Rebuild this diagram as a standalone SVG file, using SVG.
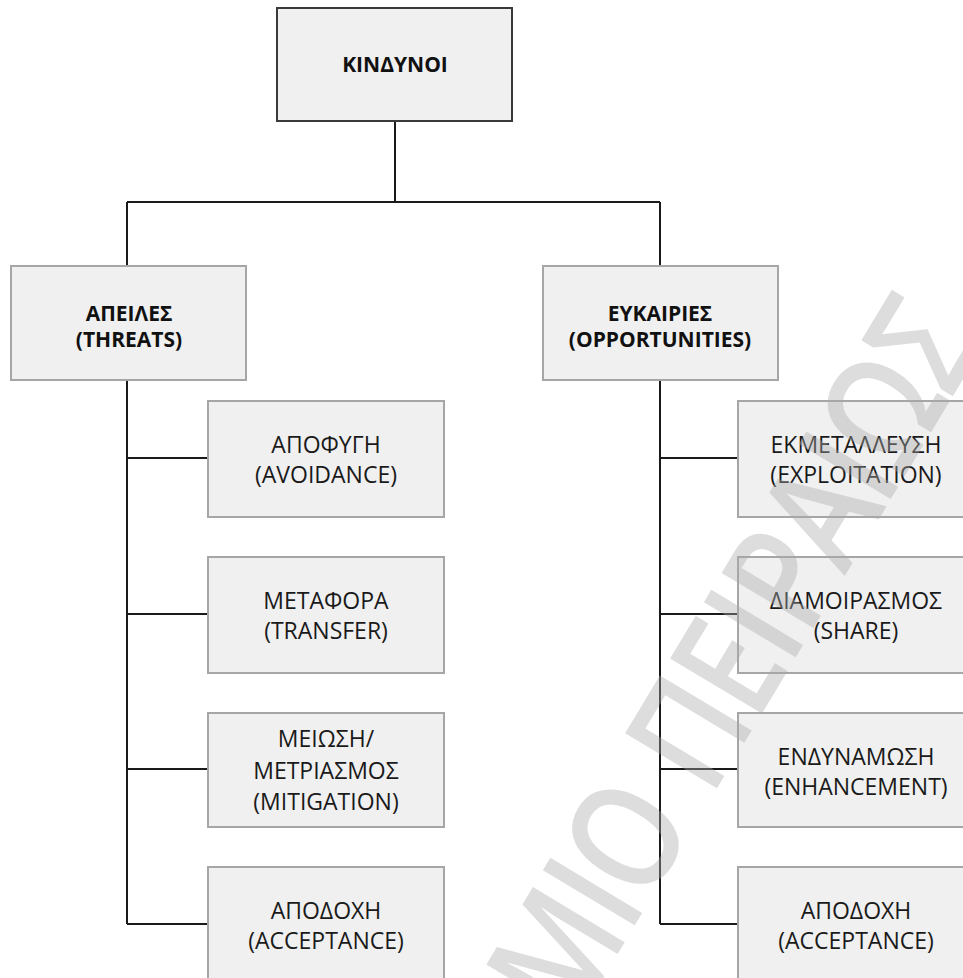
<svg xmlns="http://www.w3.org/2000/svg" width="963" height="978" viewBox="0 0 963 978">
  <style>
    .root { fill: #f0f0f0; stroke: #3a3a3a; stroke-width: 2; }
    .box { fill: #f0f0f0; stroke: #a6a6a6; stroke-width: 2; }
    .wire { fill: none; stroke: #1a1a1a; stroke-width: 2; }
    .hd { font-family: "Open Sans", "Noto Sans", sans-serif; font-weight: 700; font-size: 21px; fill: #111; text-anchor: middle; }
    .lb { font-family: "Open Sans", "Noto Sans", sans-serif; font-size: 23px; fill: #1a1a1a; text-anchor: middle; }
    .wm { font-family: "Open Sans", "Noto Sans", sans-serif; font-weight: 600; font-size: 150px; letter-spacing: -4px; fill: #aaa; fill-opacity: 0.4; }
  </style>
  <rect width="963" height="978" fill="#ffffff"/>

  <!-- connectors -->
  <g id="connectors" class="wire">
    <path d="M395,122 V202"/>
    <path d="M127,202 H660"/>
    <path d="M127,202 V266"/>
    <path d="M660,202 V266"/>
    <path d="M127,380 V924"/>
    <path d="M660,380 V924"/>
    <path d="M127,458 H208 M127,614 H208 M127,769 H208 M127,924 H208"/>
    <path d="M660,458 H738 M660,614 H738 M660,769 H738 M660,924 H738"/>
  </g>

  <!-- root -->
  <g id="kindynoi">
    <rect class="root" x="277" y="8" width="235" height="113"/>
    <text class="hd" x="395" y="72">ΚΙΝΔΥΝΟΙ</text>
  </g>

  <!-- second level -->
  <g id="threats">
    <rect class="box" x="11" y="266" width="235" height="114"/>
    <text class="hd" x="129" y="321">ΑΠΕΙΛΕΣ</text>
    <text class="hd" x="129" y="347">(THREATS)</text>
  </g>
  <g id="opportunities">
    <rect class="box" x="543" y="266" width="235" height="114"/>
    <text class="hd" x="660" y="321">ΕΥΚΑΙΡΙΕΣ</text>
    <text class="hd" x="660" y="347">(OPPORTUNITIES)</text>
  </g>

  <!-- threat responses -->
  <g id="avoidance">
    <rect class="box" x="208" y="401" width="236" height="116"/>
    <text class="lb" x="326" y="453">ΑΠΟΦΥΓΗ</text>
    <text class="lb" x="326" y="483">(AVOIDANCE)</text>
  </g>
  <g id="transfer">
    <rect class="box" x="208" y="557" width="236" height="116"/>
    <text class="lb" x="326" y="609">ΜΕΤΑΦΟΡΑ</text>
    <text class="lb" x="326" y="639">(TRANSFER)</text>
  </g>
  <g id="mitigation">
    <rect class="box" x="208" y="713" width="236" height="114"/>
    <text class="lb" x="326" y="747">ΜΕΙΩΣΗ/</text>
    <text class="lb" x="326" y="779">ΜΕΤΡΙΑΣΜΟΣ</text>
    <text class="lb" x="326" y="810">(MITIGATION)</text>
  </g>
  <g id="acceptance-threats">
    <rect class="box" x="208" y="867" width="236" height="116"/>
    <text class="lb" x="326" y="919">ΑΠΟΔΟΧΗ</text>
    <text class="lb" x="326" y="949">(ACCEPTANCE)</text>
  </g>

  <!-- opportunity responses -->
  <g id="exploitation">
    <rect class="box" x="738" y="401" width="236" height="116"/>
    <text class="lb" x="856" y="453">ΕΚΜΕΤΑΛΛΕΥΣΗ</text>
    <text class="lb" x="856" y="483">(EXPLOITATION)</text>
  </g>
  <g id="share">
    <rect class="box" x="738" y="557" width="236" height="116"/>
    <text class="lb" x="856" y="609">ΔΙΑΜΟΙΡΑΣΜΟΣ</text>
    <text class="lb" x="856" y="639">(SHARE)</text>
  </g>
  <g id="enhancement">
    <rect class="box" x="738" y="713" width="236" height="114"/>
    <text class="lb" x="856" y="765">ΕΝΔΥΝΑΜΩΣΗ</text>
    <text class="lb" x="856" y="795">(ENHANCEMENT)</text>
  </g>
  <g id="acceptance-opportunities">
    <rect class="box" x="738" y="867" width="236" height="116"/>
    <text class="lb" x="856" y="919">ΑΠΟΔΟΧΗ</text>
    <text class="lb" x="856" y="949">(ACCEPTANCE)</text>
  </g>

  <!-- diagonal watermark, slightly condensed -->
  <g id="watermark" transform="translate(623,840) rotate(-59) scale(0.82,1)">
    <text class="wm" x="60" y="54" text-anchor="end">ΠΑΝΕΠΙΣΤΗΜΙΟ</text>
    <text class="wm" x="99" y="54">ΠΕΙΡΑΙΩΣ</text>
  </g>
</svg>
